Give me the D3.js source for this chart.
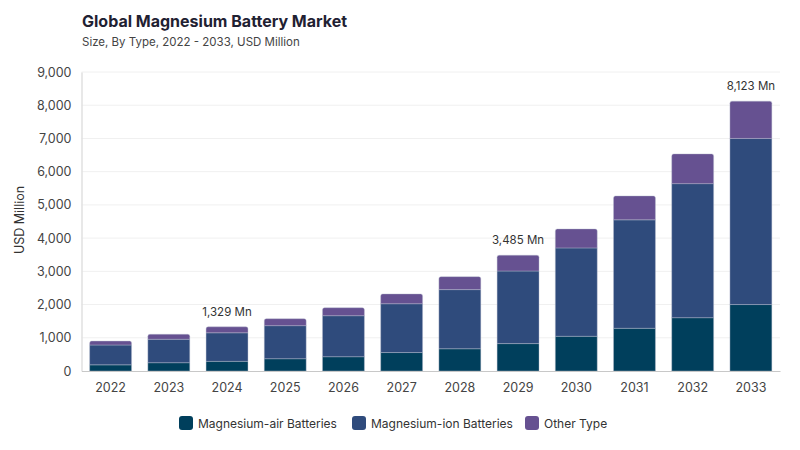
<!DOCTYPE html>
<html>
<head>
<meta charset="utf-8">
<script src="https://cdn.jsdelivr.net/npm/d3@7"></script>
<style>
  body { margin: 0; background: #fff; }
  svg { font-family: Inter, "Noto Sans", sans-serif; }
</style>
</head>
<body>
<div id="chart"></div>
<script>
// data
const years = ["2022", "2023", "2024", "2025", "2026", "2027", "2028", "2029", "2030", "2031", "2032", "2033"];
const airValues = [185, 250, 290, 370, 430, 555, 670, 825, 1045, 1285, 1605, 2000];
const ionValues = [598, 705, 860, 995, 1235, 1470, 1780, 2185, 2660, 3265, 4035, 5000];
const otherValues = [117, 150, 179, 210, 240, 295, 390, 475, 570, 720, 895, 1123];
const seriesNames = ["Magnesium-air Batteries", "Magnesium-ion Batteries", "Other Type"];
const labelYears = ["2024", "2029", "2033"];
const yTicks = [0, 1000, 2000, 3000, 4000, 5000, 6000, 7000, 8000, 9000];

const colors = ["#003f5c", "#2f4b7c", "#665191"];
const keys = ["air", "ion", "other"];

const table = years.map((y, i) => ({
    year: y, air: airValues[i], ion: ionValues[i], other: otherValues[i]
}));

const width = 800, height = 450;
const margin = { top: 72, right: 20, bottom: 79, left: 81.5 };

const svg = d3.select("#chart").append("svg")
    .attr("width", width)
    .attr("height", height);

const x = d3.scaleBand()
    .domain(years)
    .range([margin.left, width - margin.right])
    .paddingInner(0.28)
    .paddingOuter(0.14);

const y = d3.scaleLinear()
    .domain([0, 9000])
    .range([height - margin.bottom, margin.top]);

// Title
svg.append("text")
    .attr("x", 82).attr("y", 27)
    .style("font-size", "16px")
    .style("font-weight", "700")
    .attr("fill", "#1f2132")
    .text("Global Magnesium Battery Market");

svg.append("text")
    .attr("x", 82).attr("y", 46)
    .style("font-size", "11.5px")
    .attr("fill", "#444")
    .text("Size, By Type, 2022 - 2033, USD Million");

// gridlines
svg.append("g")
    .selectAll("line")
    .data(yTicks.slice(1))
    .enter().append("line")
    .attr("x1", margin.left).attr("x2", width - margin.right)
    .attr("y1", d => y(d)).attr("y2", d => y(d))
    .attr("stroke", "#f0f0f0")
    .attr("stroke-width", 1);

// y axis
const yAxis = svg.append("g")
    .attr("transform", `translate(${margin.left},0)`)
    .call(d3.axisLeft(y).tickValues(yTicks).tickSize(0).tickPadding(10).tickFormat(d3.format(",")));
yAxis.select(".domain").attr("stroke", "#e0e0e0").attr("stroke-width", 1.5);
yAxis.selectAll("text").style("font-size", "12.5px").attr("fill", "#444").style("font-family", "Inter, sans-serif");

svg.append("text")
    .attr("transform", "translate(24,220) rotate(-90)")
    .attr("text-anchor", "middle")
    .style("font-size", "12.5px")
    .attr("fill", "#333")
    .text("USD Million");

// stacked bars
const stack = d3.stack().keys(keys)(table);

stack.forEach((layer, li) => {
    svg.append("g")
        .selectAll("path")
        .data(layer)
        .enter().append("path")
        .attr("d", d => {
            const x0 = x(d.data.year), w = x.bandwidth();
            const yTop = y(d[1]), yBot = y(d[0]);
            const r = li === keys.length - 1 ? 2 : 0;
            return `M${x0},${yBot} L${x0},${yTop + r} Q${x0},${yTop} ${x0 + r},${yTop} ` +
                `L${x0 + w - r},${yTop} Q${x0 + w},${yTop} ${x0 + w},${yTop + r} L${x0 + w},${yBot} Z`;
        })
        .attr("fill", colors[li])
        .attr("stroke", "#b8bfd0")
        .attr("stroke-opacity", 0.5)
        .attr("stroke-width", 0.8);
});

// x axis
const xAxis = svg.append("g")
    .attr("transform", `translate(0,${height - margin.bottom})`)
    .call(d3.axisBottom(x).tickSize(0).tickPadding(12));
xAxis.select(".domain").attr("stroke", "#c8c8c8").attr("stroke-width", 1.2);
xAxis.selectAll("text").style("font-size", "12.5px").attr("fill", "#444").style("font-family", "Inter, sans-serif");

// total labels
svg.append("g")
    .selectAll("text")
    .data(table.filter(d => labelYears.includes(d.year)))
    .enter().append("text")
    .attr("x", d => x(d.year) + x.bandwidth() / 2)
    .attr("y", d => y(d.air + d.ion + d.other) - 11)
    .attr("text-anchor", "middle")
    .style("font-size", "11.5px")
    .attr("fill", "#333")
    .text(d => d3.format(",")(d.air + d.ion + d.other) + " Mn");

// legend
const legendX = [179, 352, 525];
const legend = svg.append("g")
    .selectAll("g")
    .data(seriesNames)
    .enter().append("g")
    .attr("transform", (d, i) => `translate(${legendX[i]},416)`);

legend.append("rect")
    .attr("width", 14).attr("height", 14)
    .attr("rx", 3)
    .attr("fill", (d, i) => colors[i]);

legend.append("text")
    .attr("x", 19).attr("y", 11.5)
    .style("font-size", "12px")
    .attr("fill", "#333")
    .text(d => d);
</script>
</body>
</html>
